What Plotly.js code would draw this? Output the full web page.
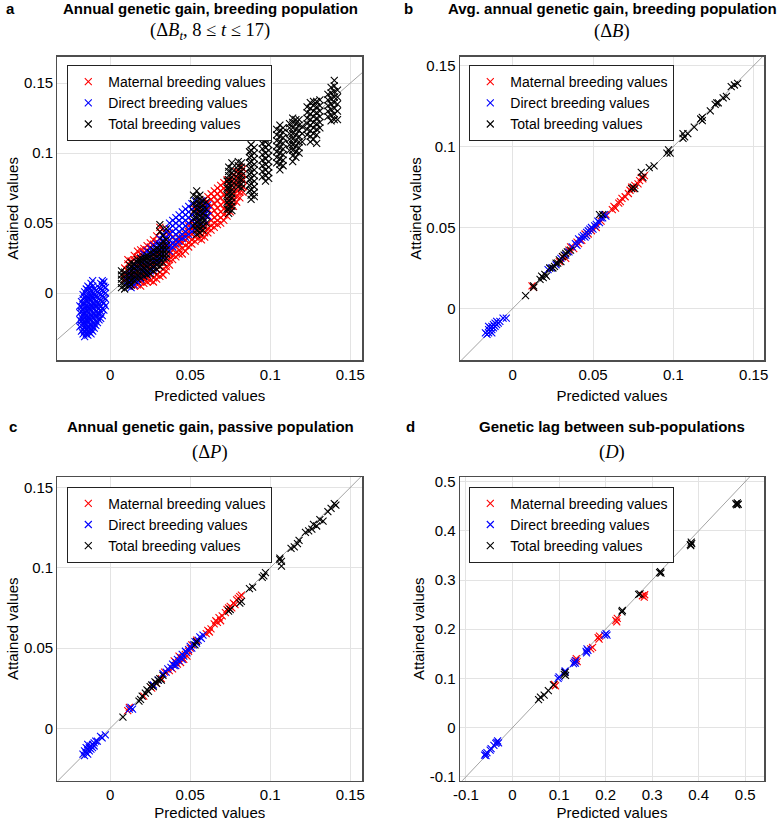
<!DOCTYPE html>
<html>
<head>
<meta charset="utf-8">
<script src="https://cdn.plot.ly/plotly-3.0.1.min.js"></script>
<style>
  html, body { margin: 0; padding: 0; background: #fff; }
  #chart { width: 784px; height: 821px; }
</style>
</head>
<body>
<div id="chart"></div>
<script>
// values
// panel a is dense, so it is kept as columns: [predicted, [attained, ...]]

// a: annual genetic gain, breeding population
var aMatCols = [
  [0.009, [0.010,0.014,0.018]],
  [0.011, [0.008,0.012,0.016,0.021,0.024]],
  [0.013, [0.006,0.010,0.014,0.019,0.023]],
  [0.015, [0.005,0.009,0.013,0.018,0.024,0.027]],
  [0.017, [0.006,0.010,0.015,0.020,0.026,0.030]],
  [0.019, [0.005,0.008,0.012,0.017,0.022,0.028,0.031]],
  [0.021, [0.007,0.010,0.014,0.019,0.024,0.029,0.032]],
  [0.023, [0.008,0.011,0.016,0.021,0.026,0.031,0.034]],
  [0.025, [0.009,0.013,0.018,0.023,0.028,0.033,0.036]],
  [0.027, [0.008,0.011,0.015,0.020,0.025,0.030,0.035,0.038]],
  [0.029, [0.010,0.013,0.017,0.022,0.027,0.032,0.037,0.041]],
  [0.031, [0.012,0.015,0.019,0.024,0.029,0.034,0.039,0.044,0.047]],
  [0.033, [0.013,0.017,0.021,0.026,0.031,0.036,0.041,0.046]],
  [0.035, [0.016,0.019,0.023,0.028,0.033,0.038,0.043]],
  [0.037, [0.020,0.024,0.028,0.033,0.038,0.043]],
  [0.039, [0.024,0.027,0.031,0.035,0.040]],
  [0.041, [0.026,0.029,0.033,0.037]],
  [0.043, [0.028,0.031,0.035,0.039]],
  [0.045, [0.028,0.032,0.036,0.040]],
  [0.047, [0.030,0.034,0.038,0.042]],
  [0.049, [0.033,0.036,0.040,0.044,0.048]],
  [0.051, [0.035,0.038,0.042,0.046,0.051]],
  [0.053, [0.037,0.040,0.044,0.049,0.054,0.060]],
  [0.055, [0.039,0.042,0.046,0.051,0.056,0.062]],
  [0.057, [0.038,0.041,0.045,0.049,0.054,0.059,0.064]],
  [0.059, [0.040,0.043,0.047,0.052,0.057,0.062,0.067]],
  [0.061, [0.043,0.046,0.050,0.055,0.060,0.065,0.069]],
  [0.063, [0.045,0.048,0.052,0.057,0.062,0.067,0.071]],
  [0.065, [0.047,0.050,0.054,0.059,0.064,0.069,0.073]],
  [0.067, [0.049,0.052,0.056,0.061,0.066,0.071,0.075]],
  [0.069, [0.050,0.054,0.058,0.063,0.068,0.073,0.077]],
  [0.071, [0.052,0.056,0.060,0.065,0.070,0.075,0.079]],
  [0.073, [0.055,0.059,0.063,0.067,0.072,0.077,0.081]],
  [0.075, [0.058,0.062,0.066,0.070,0.075,0.080]],
  [0.077, [0.062,0.066,0.070,0.074,0.079,0.084]],
  [0.079, [0.065,0.069,0.073,0.078,0.083,0.087]],
  [0.081, [0.068,0.072,0.077,0.082,0.086,0.090]],
  [0.083, [0.072,0.076,0.081,0.085,0.089]]
];

var aDirCols = [
  [-0.019, [-0.024,-0.019,-0.014,-0.009]],
  [-0.018, [-0.027,-0.023,-0.020,-0.017,-0.013,-0.010,-0.006]],
  [-0.017, [-0.029,-0.026,-0.022,-0.019,-0.015,-0.012,-0.008,-0.004,-0.001]],
  [-0.016, [-0.031,-0.027,-0.024,-0.021,-0.017,-0.014,-0.010,-0.007,-0.003,0.001]],
  [-0.015, [-0.029,-0.026,-0.022,-0.019,-0.016,-0.012,-0.009,-0.005,-0.002,0.003]],
  [-0.014, [-0.030,-0.027,-0.024,-0.020,-0.017,-0.013,-0.010,-0.006,-0.003,0.002,0.005]],
  [-0.013, [-0.028,-0.025,-0.022,-0.018,-0.015,-0.011,-0.008,-0.004,-0.001,0.004]],
  [-0.012, [-0.029,-0.026,-0.023,-0.019,-0.016,-0.012,-0.009,-0.005,-0.002,0.002,0.007]],
  [-0.011, [-0.027,-0.024,-0.021,-0.017,-0.014,-0.010,-0.007,-0.003,0.000,0.005,0.009]],
  [-0.010, [-0.025,-0.022,-0.018,-0.015,-0.011,-0.008,-0.004,-0.001,0.003]],
  [-0.009, [-0.023,-0.020,-0.016,-0.013,-0.009,-0.006,-0.002,0.002]],
  [-0.008, [-0.021,-0.017,-0.014,-0.010,-0.007,-0.003,0.001]],
  [-0.007, [-0.019,-0.015,-0.011,-0.008,-0.004,0.000,0.004]],
  [-0.006, [-0.018,-0.013,-0.009,-0.005,-0.001,0.003,0.007]],
  [-0.005, [-0.016,-0.011,-0.006,-0.002,0.002,0.006,0.009]],
  [-0.004, [-0.012,-0.007,-0.003,0.001,0.005,0.008]],
  [-0.003, [-0.009,-0.004,0.000,0.004]],
  [0.011, [0.005,0.009,0.013]],
  [0.013, [0.004,0.008,0.012,0.017]],
  [0.015, [0.006,0.010,0.015,0.020]],
  [0.017, [0.008,0.012,0.018,0.022]],
  [0.019, [0.010,0.014,0.020,0.025]],
  [0.021, [0.012,0.017,0.023,0.028]],
  [0.023, [0.014,0.019,0.025,0.030]],
  [0.025, [0.016,0.021,0.027,0.032]],
  [0.027, [0.018,0.023,0.029,0.034]],
  [0.029, [0.021,0.025,0.030,0.035]],
  [0.031, [0.024,0.027,0.031,0.035,0.039]],
  [0.033, [0.026,0.030,0.034,0.038,0.042]],
  [0.035, [0.028,0.032,0.036,0.040,0.044]],
  [0.037, [0.030,0.034,0.038,0.042,0.046,0.050]],
  [0.039, [0.033,0.036,0.040,0.044,0.048,0.052]],
  [0.041, [0.035,0.038,0.042,0.046,0.050,0.054]],
  [0.043, [0.037,0.040,0.044,0.048,0.052,0.056]],
  [0.045, [0.039,0.042,0.046,0.050,0.054,0.058]],
  [0.047, [0.040,0.044,0.048,0.052,0.056,0.060]],
  [0.049, [0.042,0.046,0.050,0.054,0.058,0.062]],
  [0.051, [0.044,0.048,0.052,0.056,0.060,0.064]],
  [0.053, [0.046,0.050,0.054,0.058,0.062,0.066]],
  [0.055, [0.048,0.052,0.056,0.060,0.064]],
  [0.057, [0.050,0.054,0.058,0.062,0.066]],
  [0.059, [0.052,0.056,0.060,0.064]],
  [0.061, [0.055,0.059,0.063]]
];

var aTotCols = [
  [0.007, [0.004,0.007,0.010,0.013,0.016]],
  [0.009, [0.003,0.006,0.009,0.012,0.015]],
  [0.012, [0.005,0.008,0.011,0.014,0.017,0.020]],
  [0.013, [0.006,0.009,0.013,0.016,0.019,0.022]],
  [0.015, [0.009,0.012,0.015,0.018,0.021]],
  [0.017, [0.010,0.013,0.016,0.019,0.022,0.024]],
  [0.019, [0.011,0.014,0.017,0.020,0.023,0.025]],
  [0.021, [0.012,0.015,0.018,0.021,0.024,0.026]],
  [0.023, [0.013,0.016,0.019,0.022,0.025,0.027]],
  [0.025, [0.014,0.017,0.020,0.023,0.026,0.029]],
  [0.027, [0.016,0.019,0.022,0.025,0.028,0.031]],
  [0.029, [0.017,0.020,0.023,0.026,0.029,0.032]],
  [0.031, [0.019,0.022,0.025,0.028,0.031,0.034,0.044,0.049]],
  [0.033, [0.022,0.025,0.028,0.031,0.034,0.037,0.041]],
  [0.035, [0.025,0.028,0.031,0.034,0.038,0.046]],
  [0.052, [0.048,0.053,0.058,0.064,0.070]],
  [0.054, [0.042,0.045,0.048,0.051,0.054,0.057,0.060,0.063,0.066,0.069,0.073]],
  [0.056, [0.043,0.046,0.049,0.052,0.055,0.058,0.061,0.064,0.067,0.070]],
  [0.058, [0.045,0.048,0.051,0.054,0.057,0.060,0.063,0.066]],
  [0.060, [0.050,0.055,0.060,0.065]],
  [0.073, [0.060,0.065,0.070,0.075,0.080]],
  [0.074, [0.057,0.060,0.063,0.066,0.069,0.072,0.075,0.078,0.081,0.084,0.087,0.090]],
  [0.076, [0.059,0.062,0.065,0.068,0.071,0.074,0.077,0.080,0.083,0.086,0.089,0.093]],
  [0.080, [0.076,0.079,0.082,0.085,0.088,0.091,0.094]],
  [0.082, [0.075,0.078,0.081,0.084,0.087,0.090,0.093]],
  [0.087, [0.073,0.077,0.081,0.085,0.089,0.093,0.097,0.101]],
  [0.088, [0.067,0.070,0.074,0.078,0.082,0.086,0.090,0.094,0.098,0.102,0.106]],
  [0.090, [0.069,0.072,0.076,0.080,0.084,0.088,0.092,0.096,0.100,0.104]],
  [0.095, [0.083,0.087,0.091,0.095,0.099,0.103,0.107]],
  [0.097, [0.080,0.084,0.088,0.092,0.096,0.100,0.104,0.108,0.110]],
  [0.099, [0.082,0.086,0.090,0.094,0.098,0.102,0.106]],
  [0.104, [0.093,0.097,0.101,0.105,0.109,0.113,0.117]],
  [0.106, [0.088,0.092,0.096,0.100,0.104,0.108,0.112,0.116,0.120]],
  [0.108, [0.091,0.095,0.099,0.103,0.107,0.111,0.115,0.118]],
  [0.112, [0.102,0.106,0.110,0.114,0.118,0.121]],
  [0.114, [0.094,0.098,0.102,0.106,0.110,0.114,0.118,0.122,0.125]],
  [0.116, [0.097,0.101,0.105,0.109,0.113,0.117,0.121,0.124]],
  [0.118, [0.100,0.104,0.108,0.112,0.116,0.120,0.124]],
  [0.120, [0.108,0.114,0.119]],
  [0.123, [0.113,0.117,0.121,0.125,0.129,0.133]],
  [0.125, [0.108,0.112,0.116,0.120,0.124,0.128,0.132,0.136]],
  [0.127, [0.110,0.114,0.118,0.122,0.126,0.130,0.134,0.137]],
  [0.129, [0.107,0.113,0.117,0.121,0.125,0.129,0.133,0.137]],
  [0.131, [0.118,0.122,0.126,0.130,0.134,0.138]],
  [0.136, [0.126,0.130,0.134,0.138,0.142]],
  [0.138, [0.123,0.127,0.131,0.135,0.139,0.143,0.147]],
  [0.140, [0.124,0.128,0.132,0.136,0.140,0.144,0.148,0.152]],
  [0.142, [0.124,0.130,0.135,0.140,0.145]]
];

// b: average annual genetic gain, breeding population — [predicted, attained]
var bMat = [[0.012,0.014],[0.013,0.013],[0.029,0.029],[0.031,0.032],[0.033,0.031],[0.035,0.036],[0.036,0.038],[0.038,0.037],[0.040,0.041],
  [0.041,0.040],[0.043,0.042],[0.045,0.046],[0.047,0.046],[0.049,0.048],[0.052,0.050],[0.055,0.054],[0.058,0.058],[0.062,0.061],
  [0.063,0.063],[0.064,0.062],[0.066,0.065],[0.067,0.066],[0.068,0.068],[0.070,0.069],[0.072,0.071],[0.073,0.073],[0.074,0.075],
  [0.075,0.074],[0.076,0.076],[0.078,0.077],[0.079,0.079],[0.080,0.081],[0.081,0.080],[0.082,0.082]];
var bDir = [[-0.016,-0.016],[-0.015,-0.015],[-0.015,-0.013],[-0.014,-0.014],[-0.014,-0.012],[-0.013,-0.013],[-0.013,-0.011],[-0.012,-0.012],
  [-0.012,-0.010],[-0.011,-0.011],[-0.011,-0.009],[-0.010,-0.010],[-0.010,-0.008],[-0.009,-0.009],[-0.008,-0.008],[-0.006,-0.006],
  [-0.004,-0.006],[-0.013,-0.015],[-0.015,-0.011],[-0.017,-0.015],
  [0.022,0.024],[0.024,0.025],[0.027,0.027],[0.030,0.031],[0.033,0.033],[0.035,0.035],[0.037,0.038],[0.039,0.040],[0.040,0.039],
  [0.042,0.042],[0.043,0.044],[0.044,0.045],[0.045,0.044],[0.046,0.047],[0.047,0.048],[0.048,0.049],[0.049,0.050],[0.050,0.049],
  [0.051,0.051],[0.052,0.052],[0.053,0.054],[0.054,0.053],[0.055,0.056],[0.056,0.056],[0.057,0.058],[0.058,0.057],[0.046,0.045],[0.041,0.043]];
var bTot = [[0.008,0.008],[0.013,0.013],[0.013,0.014],[0.017,0.018],[0.018,0.020],[0.019,0.019],[0.020,0.021],[0.021,0.020],[0.023,0.025],
  [0.025,0.025],[0.026,0.026],[0.027,0.028],[0.028,0.028],[0.029,0.030],[0.030,0.029],[0.031,0.032],[0.032,0.033],[0.033,0.034],
  [0.034,0.035],[0.036,0.036],[0.054,0.058],[0.056,0.058],[0.074,0.074],[0.075,0.075],[0.076,0.074],[0.080,0.084],[0.081,0.081],
  [0.085,0.087],[0.088,0.088],[0.096,0.096],[0.097,0.098],[0.098,0.096],[0.106,0.105],[0.107,0.106],[0.106,0.108],[0.109,0.108],
  [0.113,0.112],[0.117,0.117],[0.118,0.118],[0.118,0.116],[0.123,0.122],[0.126,0.126],[0.127,0.127],[0.128,0.127],[0.131,0.130],
  [0.133,0.131],[0.136,0.137],[0.138,0.138],[0.140,0.139]];

// c: annual genetic gain, passive population
var cMat = [[0.011,0.011],[0.012,0.013],[0.021,0.020],[0.026,0.025],[0.029,0.028],[0.032,0.031],[0.034,0.035],[0.037,0.036],[0.039,0.037],
  [0.040,0.042],[0.042,0.040],[0.043,0.045],[0.044,0.041],[0.045,0.044],[0.046,0.043],[0.047,0.046],[0.048,0.045],[0.049,0.048],
  [0.050,0.050],[0.051,0.052],[0.054,0.055],[0.060,0.059],[0.061,0.061],[0.062,0.060],[0.063,0.062],[0.065,0.065],[0.066,0.067],
  [0.067,0.066],[0.068,0.069],[0.069,0.067],[0.070,0.070],[0.072,0.072],[0.073,0.074],[0.074,0.075],[0.075,0.076],[0.076,0.075],
  [0.077,0.078],[0.078,0.077],[0.079,0.080],[0.080,0.081],[0.081,0.082],[0.082,0.083]];
var cDir = [[-0.017,-0.016],[-0.016,-0.017],[-0.016,-0.014],[-0.015,-0.015],[-0.015,-0.012],[-0.014,-0.013],[-0.014,-0.016],[-0.013,-0.012],
  [-0.013,-0.014],[-0.012,-0.011],[-0.012,-0.013],[-0.011,-0.010],[-0.011,-0.012],[-0.010,-0.009],[-0.010,-0.011],[-0.009,-0.008],
  [-0.008,-0.008],[-0.006,-0.005],[-0.005,-0.006],[-0.003,-0.004],[-0.014,-0.010],
  [0.012,0.012],[0.013,0.013],[0.014,0.012],[0.027,0.027],[0.030,0.030],[0.033,0.034],[0.035,0.035],[0.036,0.037],[0.038,0.038],
  [0.039,0.040],[0.040,0.039],[0.041,0.041],[0.042,0.043],[0.043,0.042],[0.044,0.044],[0.045,0.046],[0.046,0.045],[0.047,0.048],
  [0.048,0.047],[0.049,0.049],[0.050,0.051],[0.051,0.050],[0.052,0.052],[0.053,0.054],[0.054,0.053],[0.055,0.055],[0.056,0.057],
  [0.057,0.056],[0.058,0.058],[0.041,0.039],[0.045,0.043]];
var cTot = [[0.008,0.007],[0.018,0.017],[0.019,0.018],[0.020,0.020],[0.022,0.022],[0.023,0.024],[0.024,0.023],[0.025,0.026],[0.026,0.027],
  [0.027,0.026],[0.028,0.029],[0.029,0.028],[0.030,0.030],[0.031,0.031],[0.032,0.030],[0.033,0.033],[0.053,0.052],[0.054,0.054],
  [0.074,0.073],[0.075,0.074],[0.081,0.078],[0.082,0.079],[0.087,0.087],[0.089,0.088],[0.095,0.094],[0.096,0.095],[0.097,0.097],
  [0.106,0.105],[0.107,0.104],[0.107,0.101],[0.106,0.106],[0.113,0.112],[0.115,0.113],[0.117,0.115],[0.118,0.117],[0.122,0.122],
  [0.124,0.123],[0.126,0.124],[0.127,0.127],[0.129,0.126],[0.131,0.130],[0.133,0.129],[0.136,0.135],[0.138,0.137],[0.140,0.140],[0.141,0.139]];

// d: genetic lag between sub-populations
var dMat = [[0.090,0.088],[0.092,0.085],[0.135,0.136],[0.137,0.140],[0.139,0.134],[0.168,0.160],[0.172,0.163],[0.184,0.183],
  [0.187,0.186],[0.186,0.180],[0.222,0.218],[0.225,0.222],[0.224,0.215],[0.279,0.268],[0.283,0.265],[0.284,0.270]];
var dDir = [[-0.060,-0.056],[-0.058,-0.053],[-0.057,-0.057],[-0.055,-0.051],[-0.048,-0.046],[-0.046,-0.043],[-0.040,-0.036],[-0.036,-0.032],
  [-0.034,-0.030],[-0.032,-0.027],[-0.030,-0.031],[0.098,0.100],[0.100,0.103],[0.112,0.112],[0.113,0.115],[0.131,0.130],[0.133,0.133],
  [0.135,0.131],[0.136,0.136],[0.158,0.155],[0.160,0.160],[0.162,0.157],[0.159,0.152],[0.198,0.188],[0.201,0.191],[0.203,0.188]];
var dTot = [[0.056,0.057],[0.060,0.062],[0.068,0.066],[0.077,0.075],[0.088,0.087],[0.111,0.108],[0.113,0.112],[0.114,0.106],[0.235,0.235],
  [0.236,0.238],[0.271,0.271],[0.274,0.272],[0.316,0.315],[0.318,0.317],[0.319,0.314],[0.382,0.372],[0.384,0.377],[0.385,0.374],
  [0.383,0.370],[0.480,0.455],[0.483,0.457],[0.485,0.454],[0.482,0.453]];

var diagSmall = [-0.1, 0.3];
var diagLarge = [-0.3, 0.7];
var ticksSmall = [0, 0.05, 0.1, 0.15];
var tickTextSmall = ['0', '0.05', '0.1', '0.15'];
var ticksLarge = [-0.1, 0, 0.1, 0.2, 0.3, 0.4, 0.5];
var tickTextLarge = ['-0.1', '0', '0.1', '0.2', '0.3', '0.4', '0.5'];
var seriesNames = ['Maternal breeding values', 'Direct breeding values', 'Total breeding values'];
var seriesColors = ['#ff0000', '#0000ff', '#000000'];

// columns -> [x, y] pairs
function flatten(cols) {
  var out = [];
  cols.forEach(c => c[1].forEach(v => out.push([c[0], v])));
  return out;
}

var W = 784, H = 821;
var sans = 'Liberation Sans, Arial, sans-serif';
var serif = 'Liberation Serif, Times New Roman, serif';

var panels = [
  { sets: [flatten(aMatCols), flatten(aDirCols), flatten(aTotCols)], diag: diagSmall, ax: '', leg: 'legend' },
  { sets: [bMat, bDir, bTot], diag: diagSmall, ax: '2', leg: 'legend2' },
  { sets: [cMat, cDir, cTot], diag: diagSmall, ax: '3', leg: 'legend3' },
  { sets: [dMat, dDir, dTot], diag: diagLarge, ax: '4', leg: 'legend4' }
];

var traces = [];
panels.forEach(p => {
  traces.push({
    x: p.diag, y: p.diag, mode: 'lines', type: 'scatter',
    xaxis: 'x' + p.ax, yaxis: 'y' + p.ax, showlegend: false, hoverinfo: 'skip',
    line: { color: '#8c8c8c', width: 0.8 }
  });
  p.sets.forEach((s, i) => {
    traces.push({
      x: s.map(d => d[0]), y: s.map(d => d[1]),
      mode: 'markers', type: 'scatter', name: seriesNames[i],
      xaxis: 'x' + p.ax, yaxis: 'y' + p.ax, legend: p.leg,
      marker: { symbol: 'x-thin', size: 7, color: seriesColors[i],
                line: { color: seriesColors[i], width: 1.1 } }
    });
  });
});

function axis(dom, range, tv, tt, title, anchor, standoff) {
  return {
    domain: dom, range: range, anchor: anchor,
    tickvals: tv, ticktext: tt, ticks: '',
    showgrid: true, gridcolor: '#e3e3e3', gridwidth: 1, zeroline: false,
    showline: true, linecolor: '#4d4d4d', linewidth: 1.2, mirror: true,
    tickfont: { family: sans, size: 15, color: '#000' },
    title: { text: title, font: { family: sans, size: 15, color: '#000' }, standoff: standoff }
  };
}

var xL = [57.3 / W, 362.3 / W], xR = [459.7 / W, 764.3 / W];
var yT = [1 - 360.3 / H, 1 - 56.5 / H], yB = [1 - 780.7 / H, 1 - 476.7 / H];

function legend(px, py) {
  return {
    x: px / W, y: 1 - py / H, xanchor: 'left', yanchor: 'top',
    bgcolor: '#fff', bordercolor: '#222', borderwidth: 1,
    font: { family: sans, size: 14, color: '#000' }, itemwidth: 30
  };
}

function note(text, px, py, font) {
  return { text: text, x: px / W, y: 1 - py / H, xref: 'paper', yref: 'paper',
           xanchor: 'center', yanchor: 'middle', showarrow: false, font: font };
}
var bold = { family: sans, size: 15, color: '#000', weight: 'bold' };
var math = { family: serif, size: 18.5, color: '#000' };

var layout = {
  width: W, height: H, margin: { l: 0, r: 0, t: 0, b: 0 },
  paper_bgcolor: '#fff', plot_bgcolor: '#fff',
  xaxis: axis(xL, [-0.0331, 0.1575], ticksSmall, tickTextSmall, 'Predicted values', 'y', 9),
  yaxis: axis(yT, [-0.0479, 0.169], ticksSmall, tickTextSmall, 'Attained values', 'x', 1),
  xaxis2: axis(xR, [-0.033, 0.1566], ticksSmall, tickTextSmall, 'Predicted values', 'y2', 9),
  yaxis2: axis(yT, [-0.032, 0.1556], ticksSmall, tickTextSmall, 'Attained values', 'x2', 1),
  xaxis3: axis(xL, [-0.033, 0.1575], ticksSmall, tickTextSmall, 'Predicted values', 'y3', 9),
  yaxis3: axis(yB, [-0.0326, 0.1567], ticksSmall, tickTextSmall, 'Attained values', 'x3', 1),
  xaxis4: axis(xR, [-0.1135, 0.541], ticksLarge, tickTextLarge, 'Predicted values', 'y4', 9),
  yaxis4: axis(yB, [-0.108, 0.510], ticksLarge, tickTextLarge, 'Attained values', 'x4', 1),
  legend: legend(67.3, 65),
  legend2: legend(469.3, 65),
  legend3: legend(67.3, 486.7),
  legend4: legend(469.3, 486.7),
  annotations: [
    note('<b>a</b>', 10.8, 8, bold),
    note('<b>Annual genetic gain, breeding population</b>', 210, 8, bold),
    note('(Δ<i>B<sub>t</sub></i>, 8 ≤ <i>t</i> ≤ 17)', 210, 31, math),
    note('<b>b</b>', 408, 8, bold),
    note('<b>Avg. annual genetic gain, breeding population</b>', 612, 8, bold),
    note('(Δ<i>B</i>)', 612, 31, math),
    note('<b>c</b>', 13, 427, bold),
    note('<b>Annual genetic gain, passive population</b>', 210, 427, bold),
    note('(Δ<i>P</i>)', 210, 453, math),
    note('<b>d</b>', 410, 427, bold),
    note('<b>Genetic lag between sub-populations</b>', 612, 427, bold),
    note('(<i>D</i>)', 612, 453, math)
  ]
};

Plotly.newPlot('chart', traces, layout, { displayModeBar: false, staticPlot: true });
</script>
</body>
</html>
